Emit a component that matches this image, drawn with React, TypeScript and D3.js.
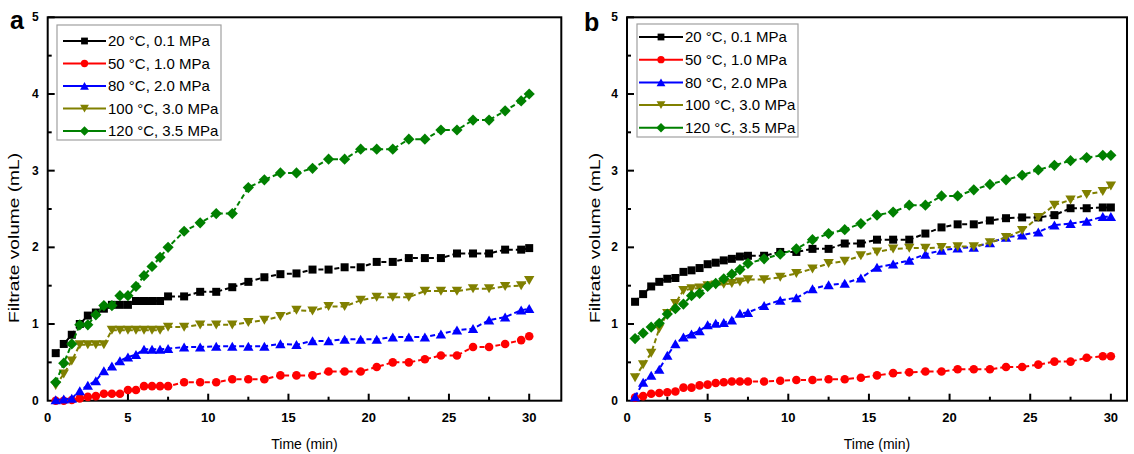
import React, { useEffect, useRef } from 'react';
import * as d3 from 'd3';

// time points (min), same for both panels
const times = [0.5, 1, 1.5, 2, 2.5, 3, 3.5, 4, 4.5, 5, 5.5, 6, 6.5, 7, 7.5, 8.5, 9.5, 10.5, 11.5, 12.5, 13.5, 14.5, 15.5, 16.5, 17.5, 18.5, 19.5, 20.5, 21.5, 22.5, 23.5, 24.5, 25.5, 26.5, 27.5, 28.5, 29.5, 30];

const seriesNames = ['20 °C, 0.1 MPa', '50 °C, 1.0 MPa', '80 °C, 2.0 MPa', '100 °C, 3.0 MPa', '120 °C, 3.5 MPa'];
const seriesColors = ['#000000', '#ff0000', '#0000ff', '#808000', '#008000'];
const seriesMarkers = ['square', 'circle', 'triangleUp', 'triangleDown', 'diamond'];

// panel a
const a20 = [0.62, 0.74, 0.86, 1.0, 1.11, 1.15, 1.2, 1.25, 1.25, 1.25, 1.3, 1.3, 1.3, 1.3, 1.36, 1.36, 1.42, 1.42, 1.48, 1.55, 1.61, 1.65, 1.66, 1.71, 1.71, 1.74, 1.74, 1.81, 1.81, 1.86, 1.86, 1.86, 1.92, 1.92, 1.92, 1.97, 1.97, 1.99];
const a50 = [0, 0, 0.01, 0.03, 0.05, 0.06, 0.09, 0.09, 0.09, 0.14, 0.14, 0.19, 0.19, 0.19, 0.19, 0.24, 0.24, 0.24, 0.28, 0.28, 0.28, 0.33, 0.33, 0.33, 0.38, 0.38, 0.38, 0.44, 0.5, 0.5, 0.54, 0.59, 0.59, 0.7, 0.7, 0.74, 0.79, 0.84];
const a80 = [0.01, 0.02, 0.03, 0.13, 0.2, 0.26, 0.39, 0.45, 0.52, 0.57, 0.6, 0.67, 0.67, 0.67, 0.68, 0.7, 0.7, 0.71, 0.71, 0.71, 0.71, 0.74, 0.73, 0.78, 0.78, 0.8, 0.8, 0.8, 0.83, 0.83, 0.83, 0.87, 0.92, 0.94, 1.05, 1.09, 1.18, 1.2];
const a100 = [0.2, 0.35, 0.52, 0.73, 0.73, 0.73, 0.73, 0.92, 0.92, 0.92, 0.92, 0.92, 0.92, 0.92, 0.96, 0.96, 0.99, 0.99, 0.99, 1.02, 1.05, 1.1, 1.18, 1.17, 1.23, 1.23, 1.31, 1.35, 1.35, 1.35, 1.43, 1.43, 1.43, 1.46, 1.46, 1.49, 1.5, 1.57];
const a120 = [0.24, 0.49, 0.74, 0.99, 0.99, 1.12, 1.24, 1.24, 1.37, 1.37, 1.49, 1.63, 1.75, 1.87, 2.0, 2.21, 2.32, 2.44, 2.44, 2.78, 2.88, 2.97, 2.97, 3.03, 3.15, 3.15, 3.28, 3.28, 3.28, 3.41, 3.41, 3.53, 3.53, 3.66, 3.66, 3.78, 3.91, 4.0];

// panel b
const b20 = [1.29, 1.39, 1.49, 1.55, 1.59, 1.6, 1.68, 1.7, 1.73, 1.78, 1.8, 1.83, 1.85, 1.88, 1.89, 1.89, 1.94, 1.94, 1.98, 1.98, 2.05, 2.05, 2.1, 2.1, 2.1, 2.18, 2.26, 2.3, 2.3, 2.35, 2.38, 2.39, 2.39, 2.42, 2.51, 2.51, 2.52, 2.52];
const b50 = [0.04, 0.06, 0.09, 0.1, 0.11, 0.12, 0.17, 0.17, 0.2, 0.21, 0.23, 0.24, 0.25, 0.25, 0.25, 0.25, 0.26, 0.27, 0.27, 0.28, 0.28, 0.3, 0.33, 0.36, 0.37, 0.38, 0.38, 0.41, 0.41, 0.41, 0.44, 0.44, 0.47, 0.51, 0.51, 0.56, 0.58, 0.58];
const b80 = [0.05, 0.24, 0.33, 0.41, 0.59, 0.74, 0.83, 0.87, 0.91, 0.99, 1.01, 1.02, 1.05, 1.14, 1.15, 1.24, 1.31, 1.34, 1.46, 1.51, 1.53, 1.6, 1.74, 1.78, 1.83, 1.91, 1.96, 1.99, 2.0, 2.06, 2.13, 2.16, 2.2, 2.29, 2.31, 2.34, 2.4, 2.4];
const b100 = [0.3, 0.47, 0.62, 0.94, 1.14, 1.27, 1.44, 1.46, 1.47, 1.5, 1.51, 1.52, 1.53, 1.55, 1.58, 1.58, 1.61, 1.66, 1.72, 1.79, 1.82, 1.89, 1.94, 1.98, 1.99, 1.99, 2.0, 2.01, 2.01, 2.06, 2.13, 2.22, 2.39, 2.55, 2.62, 2.69, 2.73, 2.8];
const b120 = [0.81, 0.88, 0.96, 1.01, 1.13, 1.2, 1.26, 1.37, 1.4, 1.49, 1.53, 1.59, 1.65, 1.71, 1.79, 1.85, 1.91, 1.98, 2.1, 2.18, 2.23, 2.31, 2.42, 2.46, 2.55, 2.55, 2.67, 2.67, 2.75, 2.82, 2.88, 2.94, 3.01, 3.07, 3.13, 3.17, 3.2, 3.2];

const xMajor = [0, 5, 10, 15, 20, 25, 30];
const xMinor = [2.5, 7.5, 12.5, 17.5, 22.5, 27.5];
const yMajor = [0, 1, 2, 3, 4, 5];
const yMinor = [0.5, 1.5, 2.5, 3.5, 4.5];

const W = 1134;
const H = 454;
const FONT = 'Arial, "Liberation Sans", Helvetica, sans-serif';

const markerPath = (type: string) => {
  switch (type) {
    case 'square': return 'M-4,-4H4V4H-4Z';
    case 'circle': return 'M4.3,0A4.3,4.3 0 1,1 -4.3,0A4.3,4.3 0 1,1 4.3,0Z';
    case 'triangleUp': return 'M0,-4.6L5.2,4.4L-5.2,4.4Z';
    case 'triangleDown': return 'M0,4.6L5.2,-4.4L-5.2,-4.4Z';
    default: return 'M0,-5.6L5.6,0L0,5.6L-5.6,0Z';
  }
};

const panels = [
  {
    letter: 'a', letterX: 10, letterY: 29, x0: 47.7, x1: 561.3, xMax: 32, yLabelX: 19,
    data: [a20, a50, a80, a100, a120],
    legend: { x: 57, y: 25, w: 164, h: 115, row0: 41, dy: 22.5, lineX0: 63, lineX1: 106, textX: 108 },
  },
  {
    letter: 'b', letterX: 584, letterY: 31, x0: 627, x1: 1127, xMax: 31, yLabelX: 600,
    data: [b20, b50, b80, b100, b120],
    legend: { x: 637, y: 24, w: 161, h: 113, row0: 37, dy: 22.7, lineX0: 639, lineX1: 683, textX: 685 },
  },
];

const App = () => {
  const svgRef = useRef<SVGSVGElement>(null);

  useEffect(() => {
    document.body.style.margin = '0';
    const svg = d3.select(svgRef.current);
    svg.selectAll('*').remove();

    const yTop = 17.3;
    const yBottom = 400.7;

    panels.forEach(p => {
      const x = d3.scaleLinear().domain([0, p.xMax]).range([p.x0, p.x1]);
      const y = d3.scaleLinear().domain([0, 5]).range([yBottom, yTop]);
      const g = svg.append('g');

      // ticks (inward)
      g.selectAll('.ytick')
        .data(yMajor.slice(1))
        .enter().append('line')
        .attr('x1', p.x0).attr('x2', p.x0 + 7)
        .attr('y1', d => y(d)).attr('y2', d => y(d))
        .attr('stroke', '#000').attr('stroke-width', 2);
      g.selectAll('.yminor')
        .data(yMinor)
        .enter().append('line')
        .attr('x1', p.x0).attr('x2', p.x0 + 4)
        .attr('y1', d => y(d)).attr('y2', d => y(d))
        .attr('stroke', '#000').attr('stroke-width', 2);
      g.selectAll('.xtick')
        .data(xMajor.slice(1))
        .enter().append('line')
        .attr('x1', d => x(d)).attr('x2', d => x(d))
        .attr('y1', yBottom).attr('y2', yBottom - 7)
        .attr('stroke', '#000').attr('stroke-width', 2);
      g.selectAll('.xminor')
        .data(xMinor)
        .enter().append('line')
        .attr('x1', d => x(d)).attr('x2', d => x(d))
        .attr('y1', yBottom).attr('y2', yBottom - 4)
        .attr('stroke', '#000').attr('stroke-width', 2);

      // frame
      g.append('rect')
        .attr('x', p.x0).attr('y', yTop)
        .attr('width', p.x1 - p.x0).attr('height', yBottom - yTop)
        .attr('fill', 'none').attr('stroke', '#000').attr('stroke-width', 2);

      // tick labels
      g.selectAll('.ylab')
        .data(yMajor)
        .enter().append('text')
        .attr('x', p.x0 - 9).attr('y', d => y(d) + 4)
        .attr('text-anchor', 'end')
        .style('font-family', FONT).style('font-size', '12px').style('font-weight', 'bold')
        .text(d => d);
      g.selectAll('.xlab')
        .data(xMajor)
        .enter().append('text')
        .attr('x', d => x(d)).attr('y', 421.5)
        .attr('text-anchor', 'middle')
        .style('font-family', FONT).style('font-size', '13px').style('font-weight', 'bold')
        .text(d => d);

      // axis titles
      g.append('text')
        .attr('x', (p.x0 + p.x1) / 2).attr('y', 449)
        .attr('text-anchor', 'middle')
        .style('font-family', FONT).style('font-size', '14px')
        .text('Time (min)');
      g.append('text')
        .attr('transform', `translate(${p.yLabelX},238) rotate(-90)`)
        .attr('text-anchor', 'middle')
        .attr('textLength', 170).attr('lengthAdjust', 'spacingAndGlyphs')
        .style('font-family', FONT).style('font-size', '14px')
        .text('Filtrate volume (mL)');

      // panel letter
      g.append('text')
        .attr('x', p.letterX).attr('y', p.letterY)
        .style('font-family', FONT).style('font-size', '25px').style('font-weight', 'bold')
        .text(p.letter);

      // series
      const line = d3.line<number>()
        .x((_, i) => x(times[i]))
        .y(d => y(d));
      p.data.forEach((vals, si) => {
        g.append('path')
          .datum(vals)
          .attr('d', line)
          .attr('fill', 'none')
          .attr('stroke', seriesColors[si])
          .attr('stroke-width', 2)
          .attr('stroke-dasharray', '5,3');
        g.selectAll(`.m${si}`)
          .data(vals)
          .enter().append('path')
          .attr('d', markerPath(seriesMarkers[si]))
          .attr('transform', (d, i) => `translate(${x(times[i])},${y(d)})`)
          .attr('fill', seriesColors[si]);
      });

      // legend
      const L = p.legend;
      g.append('rect')
        .attr('x', L.x).attr('y', L.y).attr('width', L.w).attr('height', L.h)
        .attr('fill', '#fff').attr('stroke', '#a0a0a0').attr('stroke-width', 1.2);
      seriesNames.forEach((name, si) => {
        const ry = L.row0 + si * L.dy;
        g.append('line')
          .attr('x1', L.lineX0).attr('x2', L.lineX1)
          .attr('y1', ry).attr('y2', ry)
          .attr('stroke', seriesColors[si]).attr('stroke-width', 2);
        g.append('path')
          .attr('d', markerPath(seriesMarkers[si]))
          .attr('transform', `translate(${(L.lineX0 + L.lineX1) / 2},${ry}) scale(0.85)`)
          .attr('fill', seriesColors[si]);
        g.append('text')
          .attr('x', L.textX).attr('y', ry + 5.3)
          .style('font-family', FONT).style('font-size', '15px')
          .text(name);
      });
    });
  }, []);

  return (
    <svg ref={svgRef} width={W} height={H} style={{ display: 'block', background: '#fff' }}></svg>
  );
};

export default App;
